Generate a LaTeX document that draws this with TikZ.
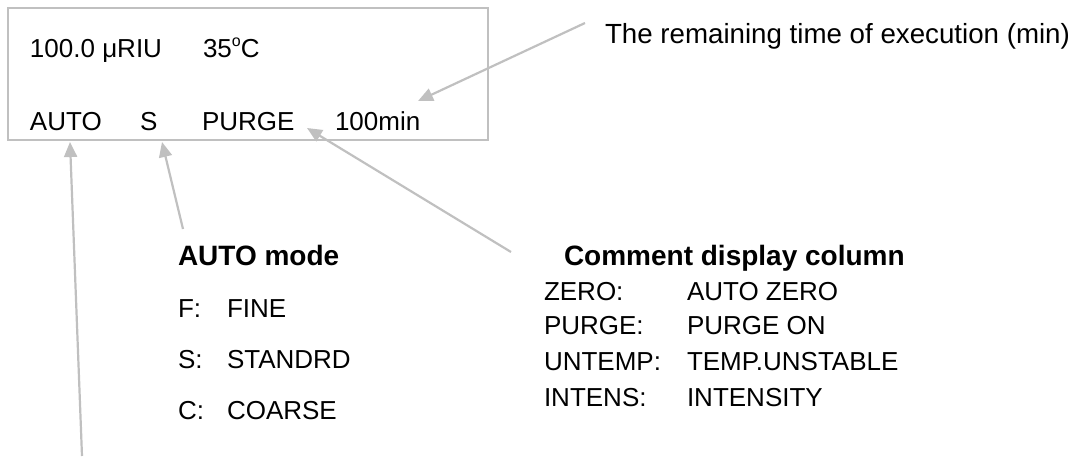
\documentclass[tikz,border=0pt]{standalone}
\usepackage{fontspec}
\setmainfont{Liberation Sans}
\usetikzlibrary{arrows.meta}
\definecolor{linegray}{RGB}{192,192,192}
\tikzset{
  txt/.style={anchor=base west, inner sep=0pt, outer sep=0pt, font=\fontsize{26}{31}\selectfont},
  bigtxt/.style={anchor=base west, inner sep=0pt, outer sep=0pt, font=\fontsize{27.7}{33}\selectfont},
  head/.style={anchor=base west, inner sep=0pt, outer sep=0pt, font=\fontsize{28}{33}\selectfont\bfseries},
  pointer/.style={draw=linegray, line width=2.2pt, -{Triangle[length=15pt,width=13pt]}},
  panel/.style={draw=linegray, line width=2pt}
}
\begin{document}
\begin{tikzpicture}[x=1pt,y=-1pt]
\useasboundingbox (0,0) rectangle (1085,456);
% display panel
\draw[panel] (8,8) rectangle (488,140);
\node[txt] (val) at (30,57) {100.0 μRIU};
\node[txt] (temp) at (203,57) {35\raisebox{0.42em}{\fontsize{16}{16}\selectfont o}C};
\node[txt] (auto) at (30,130) {AUTO};
\node[txt] (s) at (140,130) {S};
\node[txt] (purge) at (202,130) {PURGE};
\node[txt] (min) at (335,130) {100min};
% annotations
\node[bigtxt] (remain) at (605,43) {The remaining time of execution (min)};
\node[head] (modehead) at (178,265) {AUTO mode};
\node[txt] (f1) at (178,317) {F:};
\node[txt] (f2) at (227,317) {FINE};
\node[txt] (s1) at (178,368) {S:};
\node[txt] (s2) at (227,368) {STANDRD};
\node[txt] (c1) at (178,419) {C:};
\node[txt] (c2) at (227,419) {COARSE};
\node[head] (comhead) at (564,265) {Comment display column};
\node[txt] (z1) at (544,300) {ZERO:};
\node[txt] (z2) at (687,300) {AUTO ZERO};
\node[txt] (p1) at (544,334) {PURGE:};
\node[txt] (p2) at (687,334) {PURGE ON};
\node[txt] (u1) at (544,370) {UNTEMP:};
\node[txt] (u2) at (687,370) {TEMP.UNSTABLE};
\node[txt] (i1) at (544,406) {INTENS:};
\node[txt] (i2) at (687,406) {INTENSITY};
% connector ends
\coordinate (autotail) at (82,456);
\coordinate (autotip) at (70,142);
\coordinate (stail) at (183,229);
\coordinate (stip) at (162,142);
\coordinate (purgetail) at (511,252);
\coordinate (purgetip) at (307,128);
\coordinate (mintail) at (585,23);
\coordinate (mintip) at (418,101);
\draw[pointer] (autotail) -- (autotip);
\draw[pointer] (stail) -- (stip);
\draw[pointer] (purgetail) -- (purgetip);
\draw[pointer] (mintail) -- (mintip);
\end{tikzpicture}
\end{document}
